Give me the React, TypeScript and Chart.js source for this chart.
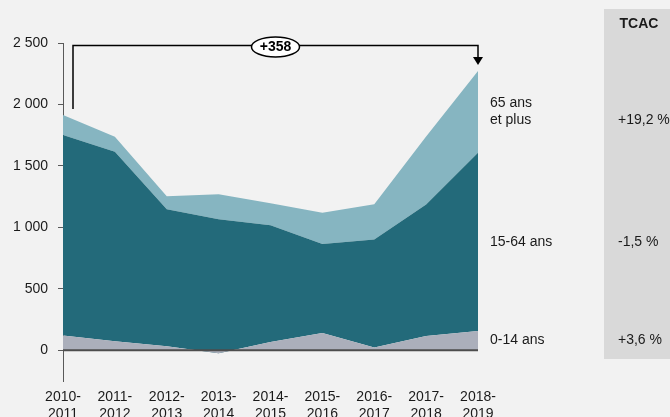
import React, { useEffect, useRef } from "react";
import { Chart, registerables } from "chart.js";

Chart.register(...registerables);

const categories = [
  ["2010-", "2011"], ["2011-", "2012"], ["2012-", "2013"], ["2013-", "2014"], ["2014-", "2015"],
  ["2015-", "2016"], ["2016-", "2017"], ["2017-", "2018"], ["2018-", "2019"],
];
const age0to14 = [120, 73, 33, -25, 68, 141, 22, 117, 157];
const age15to64 = [1631, 1542, 1115, 1092, 950, 724, 879, 1069, 1450];
const age65plus = [163, 122, 106, 203, 179, 253, 288, 554, 665];
const seriesLabels = [["0-14 ans"], ["15-64 ans"], ["65 ans", "et plus"]];
const tcacValues = ["+3,6 %", "-1,5 %", "+19,2 %"];
const deltaLabel = "+358";
const yTicks = [0, 500, 1000, 1500, 2000, 2500];

const FONT = "'Liberation Sans', Arial, sans-serif";

export default function App() {
  const ref = useRef<HTMLCanvasElement>(null);
  useEffect(() => {
    const cum1 = age0to14.slice();
    const cum2 = cum1.map((v, i) => v + age15to64[i]);
    const cum3 = cum2.map((v, i) => v + age65plus[i]);
    const tops = [cum1, cum2, cum3];
    const bottoms = [age0to14.map(() => 0), cum1, cum2];

    const overlay = {
      id: "overlay",
      beforeDraw(chart: any) {
        const c = chart.ctx;
        c.save();
        c.fillStyle = "#f2f2f2";
        c.fillRect(0, 0, chart.width, chart.height);
        c.fillStyle = "#d9d9d9";
        c.fillRect(604, 9, 66, 350);
        c.restore();
      },
      afterDatasetsDraw(chart: any) {
        const c = chart.ctx;
        const x = chart.scales.x;
        const y = chart.scales.y;
        const n = categories.length;
        c.save();
        // zero line
        c.strokeStyle = "#4d4d4d";
        c.lineWidth = 2;
        c.beginPath();
        c.moveTo(x.getPixelForValue(0), y.getPixelForValue(0));
        c.lineTo(x.getPixelForValue(n - 1), y.getPixelForValue(0));
        c.stroke();

        // bracket
        const xl = x.getPixelForValue(0) + 10;
        const xr = x.getPixelForValue(n - 1);
        const yTop = y.getPixelForValue(2480);
        const yL = y.getPixelForValue(cum3[0]) - 6;
        const yR = y.getPixelForValue(cum3[n - 1]) - 6;
        c.strokeStyle = "#000";
        c.lineWidth = 1.5;
        c.beginPath();
        c.moveTo(xl, yL);
        c.lineTo(xl, yTop);
        c.lineTo(xr, yTop);
        c.lineTo(xr, yR - 6);
        c.stroke();
        c.fillStyle = "#000";
        c.beginPath();
        c.moveTo(xr - 5, yR - 8);
        c.lineTo(xr + 5, yR - 8);
        c.lineTo(xr, yR);
        c.closePath();
        c.fill();
        // ellipse label
        const ex = (xl + xr) / 2;
        c.fillStyle = "#fff";
        c.beginPath();
        c.ellipse(ex, yTop + 1.5, 24, 10, 0, 0, Math.PI * 2);
        c.fill();
        c.stroke();
        c.fillStyle = "#000";
        c.font = `bold 14px ${FONT}`;
        c.textAlign = "center";
        c.textBaseline = "middle";
        c.fillText(deltaLabel, ex, yTop + 1.5);

        // series labels and TCAC
        c.font = `14px ${FONT}`;
        c.fillStyle = "#1a1a1a";
        for (let s = 0; s < 3; s++) {
          const mid = (tops[s][n - 1] + bottoms[s][n - 1]) / 2;
          const py = y.getPixelForValue(mid);
          const lines = seriesLabels[s];
          const start = py - ((lines.length - 1) * 17) / 2;
          c.textAlign = "left";
          lines.forEach((l, i) => c.fillText(l, 490, start + i * 17));
          const ty = lines.length > 1 ? start + (lines.length - 1) * 17 : py;
          c.fillText(tcacValues[s], 618, ty);
        }
        c.font = `bold 14px ${FONT}`;
        c.textAlign = "center";
        c.fillText("TCAC", 639, 24);
        c.restore();
      },
    };

    const chart = new Chart(ref.current!, {
      type: "line",
      data: {
        labels: categories as any,
        datasets: [
          { label: "0-14 ans", data: cum1, backgroundColor: "#abafbb", fill: "origin" },
          { label: "15-64 ans", data: cum2, backgroundColor: "#236a7a", fill: "-1" },
          { label: "65 ans et plus", data: cum3, backgroundColor: "#86b5c1", fill: "-1" },
        ].map((d) => ({ ...d, borderWidth: 0, pointRadius: 0, tension: 0 })),
      },
      options: {
        animation: false,
        responsive: false,
        maintainAspectRatio: false,
        layout: { padding: { top: 43, right: 192, bottom: 0, left: 0 } },
        plugins: { legend: { display: false }, tooltip: { enabled: false } },
        scales: {
          x: {
            offset: false,
            grid: { display: false },
            border: { display: false },
            ticks: {
              color: "#1a1a1a",
              font: { family: FONT, size: 14 },
              maxRotation: 0,
              autoSkip: false,
              padding: 0,
            },
            afterFit: (s: any) => { s.height = 36; },
          },
          y: {
            min: -250,
            max: 2500,
            grid: { drawOnChartArea: false, drawTicks: true, tickLength: 5, color: "#595959" },
            border: { display: true, color: "#595959", width: 1 },
            afterBuildTicks: (s: any) => { s.ticks = yTicks.map((v) => ({ value: v })); },
            afterFit: (s: any) => { s.width = 63; },
            ticks: {
              color: "#1a1a1a",
              font: { family: FONT, size: 14 },
              padding: 10,
              callback: (v: any) => String(v).replace(/\B(?=(\d{3})+(?!\d))/g, " "),
            },
          },
        },
      },
      plugins: [overlay],
    });
    return () => chart.destroy();
  }, []);
  return (
    <div style={{ position: "absolute", left: 0, top: 0, width: 670, height: 417 }}>
      <canvas ref={ref} width={670} height={417} style={{ width: 670, height: 417 }} />
    </div>
  );
}
